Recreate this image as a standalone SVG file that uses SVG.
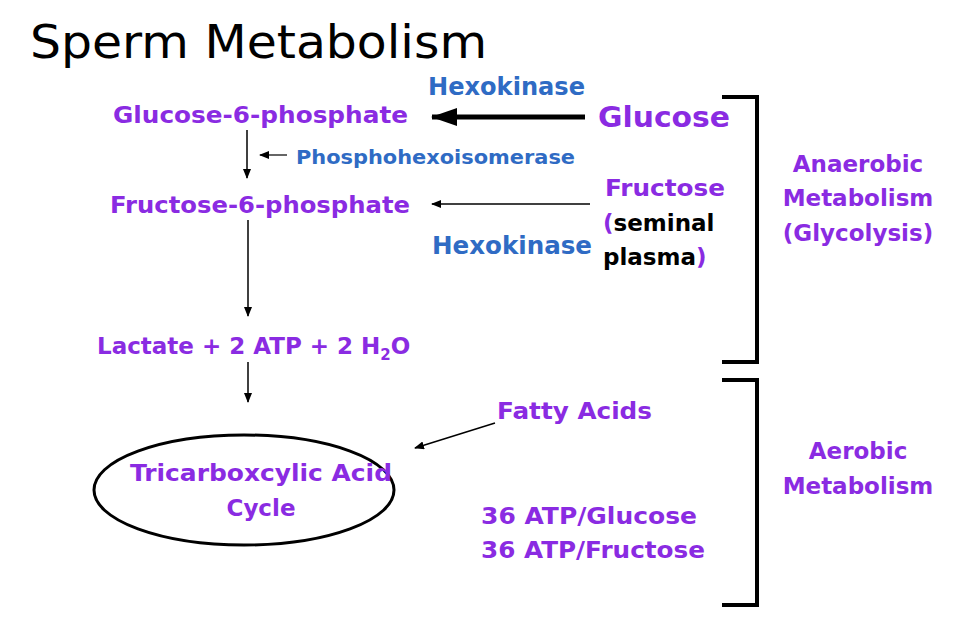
<svg xmlns="http://www.w3.org/2000/svg" width="956" height="622" viewBox="0 0 956 622">
<style>
text{font-family:"DejaVu Sans",Verdana,sans-serif;font-weight:bold}
.p{fill:#8a2be2;font-size:23px}
.b{fill:#2f6bc4}
.k{stroke:#000;fill:none}
</style>
<defs>
<marker id="a" markerWidth="10" markerHeight="8" refX="9" refY="4" orient="auto" markerUnits="userSpaceOnUse"><path d="M0,0L10,4L0,8z"/></marker>
<marker id="big" markerWidth="26" markerHeight="18" refX="25" refY="9" orient="auto" markerUnits="userSpaceOnUse"><path d="M0,0L26,9L0,18z"/></marker>
</defs>
<rect width="956" height="622" fill="#fff"/>
<text x="30" y="58" textLength="457" lengthAdjust="spacingAndGlyphs" style="font-weight:normal;font-size:46px">Sperm Metabolism</text>
<g id="connectors">
<line class="k" x1="585" y1="117" x2="432" y2="117" stroke-width="5" marker-end="url(#big)"/>
<line class="k" x1="247" y1="130" x2="247" y2="178" stroke-width="1.5" marker-end="url(#a)"/>
<line class="k" x1="287" y1="155" x2="260" y2="155" stroke-width="1.2" marker-end="url(#a)"/>
<line class="k" x1="590" y1="204" x2="432" y2="204" stroke-width="1.5" marker-end="url(#a)"/>
<line class="k" x1="248" y1="220" x2="248" y2="316" stroke-width="1.5" marker-end="url(#a)"/>
<line class="k" x1="248" y1="362" x2="248" y2="402" stroke-width="1.5" marker-end="url(#a)"/>
<line class="k" x1="495" y1="423" x2="415" y2="448" stroke-width="1.5" marker-end="url(#a)"/>
</g>
<g id="bracket1"><path class="k" stroke-width="4" d="M722,97H757V362H722"/></g>
<g id="bracket2"><path class="k" stroke-width="4" d="M722,380H757V605H722"/></g>
<g id="hexokinase1"><text class="b" x="428" y="95" font-size="24" textLength="157" lengthAdjust="spacingAndGlyphs">Hexokinase</text></g>
<g id="g6p"><text class="p" x="113" y="123" textLength="295" lengthAdjust="spacingAndGlyphs">Glucose-6-phosphate</text></g>
<g id="glucose"><text class="p" x="598" y="127" textLength="132" lengthAdjust="spacingAndGlyphs" style="font-size:28px">Glucose</text></g>
<g id="phi"><text class="b" x="296" y="164" font-size="19" textLength="279" lengthAdjust="spacingAndGlyphs">Phosphohexoisomerase</text></g>
<g id="f6p"><text class="p" x="110" y="213" textLength="300" lengthAdjust="spacingAndGlyphs">Fructose-6-phosphate</text></g>
<g id="fructose"><text class="p" x="605" y="196" textLength="120" lengthAdjust="spacingAndGlyphs">Fructose</text>
<text class="p" x="603" y="231">(<tspan fill="#000">seminal</tspan></text>
<text class="p" x="603" y="265"><tspan fill="#000">plasma</tspan>)</text></g>
<g id="hexokinase2"><text class="b" x="432" y="254" font-size="24" textLength="160" lengthAdjust="spacingAndGlyphs">Hexokinase</text></g>
<g id="anaerobic"><text class="p" text-anchor="middle" x="858" y="172">Anaerobic</text><text class="p" text-anchor="middle" x="858" y="206">Metabolism</text><text class="p" text-anchor="middle" x="858" y="241">(Glycolysis)</text></g>
<g id="lactate"><text class="p" x="97" y="354">Lactate + 2 ATP + 2 H<tspan font-size="15" dy="6">2</tspan><tspan dy="-6">O</tspan></text></g>
<g id="tca"><ellipse cx="244" cy="490" rx="150" ry="55" class="k" stroke-width="3"/>
<text class="p" x="130" y="481" textLength="262" lengthAdjust="spacingAndGlyphs">Tricarboxcylic Acid</text><text class="p" x="261" y="516" text-anchor="middle">Cycle</text></g>
<g id="fatty"><text class="p" x="497" y="419" textLength="155" lengthAdjust="spacingAndGlyphs">Fatty Acids</text></g>
<g id="atp"><text class="p" x="481" y="524" textLength="216" lengthAdjust="spacingAndGlyphs">36 ATP/Glucose</text><text class="p" x="481" y="558" textLength="224" lengthAdjust="spacingAndGlyphs">36 ATP/Fructose</text></g>
<g id="aerobic"><text class="p" text-anchor="middle" x="858" y="459">Aerobic</text><text class="p" text-anchor="middle" x="858" y="494">Metabolism</text></g>
</svg>
